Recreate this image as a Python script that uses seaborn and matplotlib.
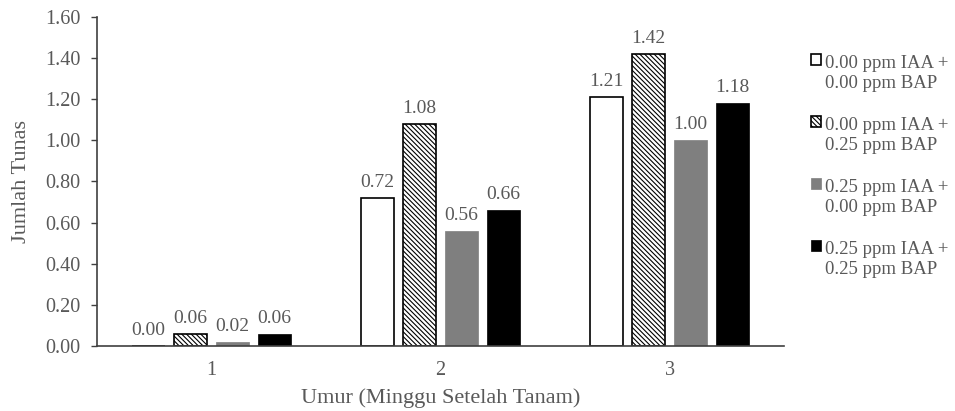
import matplotlib
matplotlib.use("Agg")
import matplotlib.pyplot as plt
from matplotlib.patches import Rectangle
from matplotlib.legend_handler import HandlerPatch
import seaborn as sns
import pandas as pd

weeks = ["1", "2", "3"]
treatments = ["0.00 ppm IAA +\n0.00 ppm BAP",
              "0.00 ppm IAA +\n0.25 ppm BAP",
              "0.25 ppm IAA +\n0.00 ppm BAP",
              "0.25 ppm IAA +\n0.25 ppm BAP"]
values = {
    treatments[0]: [0.00, 0.72, 1.21],
    treatments[1]: [0.06, 1.08, 1.42],
    treatments[2]: [0.02, 0.56, 1.00],
    treatments[3]: [0.06, 0.66, 1.18],
}
yticks = [0.0, 0.2, 0.4, 0.6, 0.8, 1.0, 1.2, 1.4, 1.6]

rows = []
for t in treatments:
    for w, v in zip(weeks, values[t]):
        rows.append({"Minggu": w, "Perlakuan": t, "Jumlah": v})
df = pd.DataFrame(rows)

sns.set_theme(style="white")
plt.rcParams["font.family"] = ["Liberation Serif", "DejaVu Serif"]
plt.rcParams["hatch.color"] = "#505050"
plt.rcParams["hatch.linewidth"] = 0.8
txt = "#595959"

fig = plt.figure(figsize=(9.55, 4.11), dpi=100)
ax = fig.add_axes([97/955, 1-346/411, (784-97)/955, (346-17)/411])

fills = ["white", "white", "#7f7f7f", "black"]
edges = ["black", "black", "#7f7f7f", "black"]
hatches = [None, "\\" * 7, None, None]

sns.barplot(data=df, x="Minggu", y="Jumlah", hue="Perlakuan", order=weeks,
            hue_order=treatments, palette=fills, width=0.735, gap=0.22,
            ax=ax, legend=False, errorbar=None)

for i, cont in enumerate(ax.containers):
    for p in cont:
        p.set_edgecolor(edges[i])
        p.set_linewidth(1.2 if i < 2 else 0.5)
        if hatches[i]:
            p.set_hatch(hatches[i])
    ax.bar_label(cont, labels=[f"{v:.2f}" for v in values[treatments[i]]],
                 padding=5, fontsize=14, color=txt)

ax.set_ylim(0, 1.6)
ax.set_xlim(-0.5, 2.5)
ax.set_yticks(yticks)
ax.set_yticklabels([f"{v:.2f}" for v in yticks])
ax.tick_params(axis="y", direction="out", length=4, width=1, color="#404040",
               labelsize=14.5, labelcolor=txt, pad=8, left=True)
ax.tick_params(axis="x", length=0, labelsize=14.5, labelcolor=txt, pad=11)
for s in ["top", "right"]:
    ax.spines[s].set_visible(False)
for s in ["left", "bottom"]:
    ax.spines[s].set_color("#404040")
    ax.spines[s].set_linewidth(1.2)
ax.set_ylabel("Jumlah Tunas", fontsize=16, color=txt, labelpad=10)
ax.set_xlabel("Umur (Minggu Setelah Tanam)", fontsize=16, color=txt, labelpad=6)


def top_patch(legend, orig_handle, xdescent, ydescent, width, height, fontsize):
    return Rectangle((-xdescent, -ydescent + 0.75 * fontsize), width, height)


handles = [cont[0] for cont in ax.containers]
leg = fig.legend(handles, treatments, loc="upper left",
                 bbox_to_anchor=(803/955, 1-48/411), frameon=False,
                 fontsize=13.5, labelcolor=txt, handlelength=0.55,
                 handleheight=0.55, handletextpad=0.2, labelspacing=1.35,
                 borderaxespad=0,
                 handler_map={Rectangle: HandlerPatch(patch_func=top_patch)})

fig.savefig("out.png", dpi=100)
